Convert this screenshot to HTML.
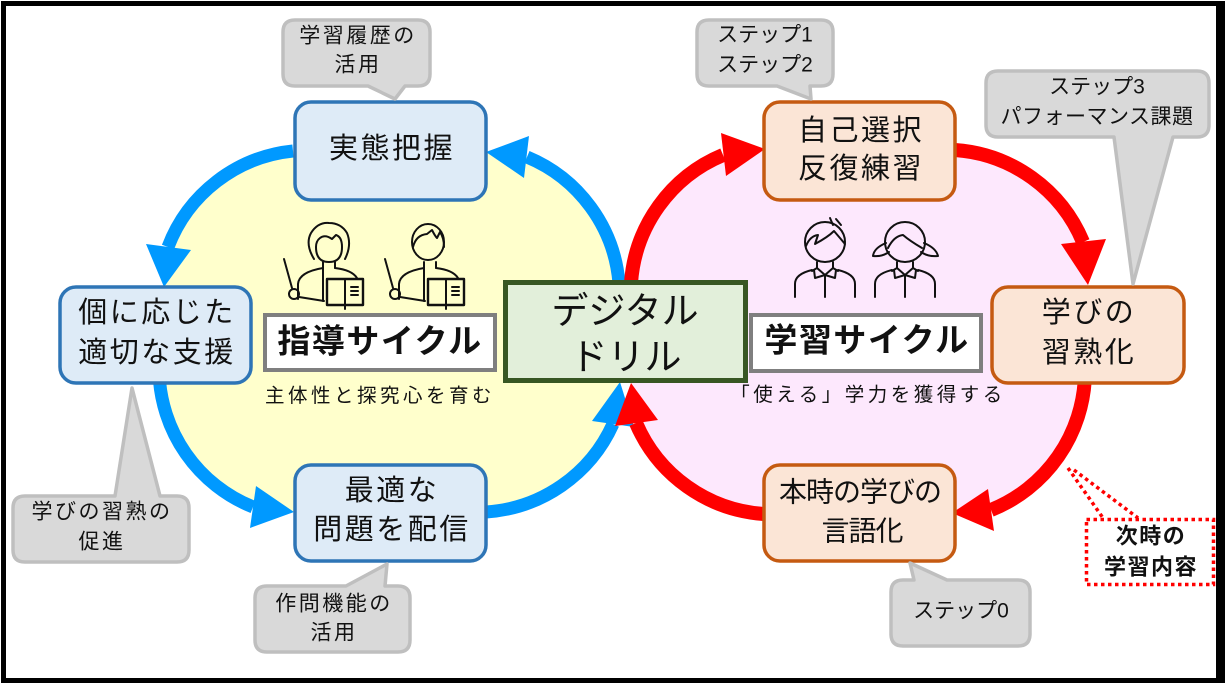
<!DOCTYPE html>
<html><head><meta charset="utf-8">
<style>
html,body{margin:0;padding:0;background:#fff;}
svg{display:block;}
text{font-family:"Liberation Sans","Noto Sans CJK JP",sans-serif;fill:#111;text-anchor:middle;dominant-baseline:central;}
.b{font-size:29px;letter-spacing:2.5px;}
.bn{font-size:28px;letter-spacing:-1px;}
.d{font-size:37px;}
.l{font-size:33px;font-weight:700;letter-spacing:1.5px;}
.s{font-size:19.5px;letter-spacing:3.5px;}
.c{font-size:21px;letter-spacing:2.5px;}
.ck{font-size:21px;letter-spacing:0px;}
.r{font-size:22px;font-weight:700;letter-spacing:1.5px;}
</style></head>
<body>
<svg width="1225" height="683" viewBox="0 0 1225 683" xmlns="http://www.w3.org/2000/svg">
<rect x="1" y="1" width="1224" height="682" fill="#000"/>
<rect x="6" y="6" width="1210" height="672" fill="#fff"/>

<path d="M619 283 A150 150 0 0 0 527 157 L487 152 L293 151 A150 150 0 0 0 168 247 L164 287 L159 372 A150 150 0 0 0 253 507 L293 512 L486 512 A150 150 0 0 0 613 424 L620 383 Z" fill="#ffffcc"/>
<path d="M631 283 A150 150 0 0 1 723 155 L765 150 L955 150 A150 150 0 0 1 1083 242 L1088 287 L1085 375 A150 150 0 0 1 991 510 L955 513 L764 514 A150 150 0 0 1 636 423 L631 383 Z" fill="#fde8fd"/>

<g fill="none" stroke="#0099ff" stroke-width="13">
<path d="M293 151 A150 150 0 0 0 168 247"/>
<path d="M159 372 A150 150 0 0 0 253 507"/>
<path d="M486 512 A150 150 0 0 0 613 424"/>
<path d="M619 283 A150 150 0 0 0 527 157"/>
</g>
<g fill="#0099ff">
<polygon points="146,244 191,250 164,287"/>
<polygon points="256,486 250,528 294,512"/>
<polygon points="592,421 634,427 620,382"/>
<polygon points="529,136 524,178 486,152"/>
</g>

<g fill="none" stroke="#ff0000" stroke-width="14">
<path d="M631 283 A150 150 0 0 1 723 155"/>
<path d="M955 150 A150 150 0 0 1 1083 242"/>
<path d="M1085 375 A150 150 0 0 1 991 510"/>
<path d="M764 514 A150 150 0 0 1 636 423"/>
</g>
<g fill="#ff0000">
<polygon points="721,133 726,176 765,149"/>
<polygon points="1061,244 1106,239 1088,285"/>
<polygon points="988,489 994,531 952,513"/>
<polygon points="615,426 658,420 631,383"/>
</g>

<g fill="none" stroke="#ff0000" stroke-width="3.5" stroke-dasharray="3.5 3.5">
<path d="M1068 468 L1103 518"/>
<path d="M1074 470 L1138 518"/>
<rect x="1086.5" y="519.5" width="127" height="65"/>
</g>

<g fill="#deebf7" stroke="#2e75b6" stroke-width="3.5">
<rect x="295" y="102" width="191" height="98" rx="16"/>
<rect x="60" y="287" width="191" height="96" rx="16"/>
<rect x="295" y="465" width="191" height="96" rx="16"/>
</g>
<g fill="#fbe5d6" stroke="#c55a11" stroke-width="3.5">
<rect x="764" y="102" width="191" height="98" rx="16"/>
<rect x="992" y="287" width="192" height="96" rx="16"/>
<rect x="764" y="465" width="191" height="96" rx="16"/>
</g>
<rect x="505.5" y="282.5" width="240" height="98" fill="#e2efda" stroke="#385723" stroke-width="5"/>
<g fill="#fff" stroke="#7f7f7f" stroke-width="4">
<rect x="265" y="315" width="230" height="55"/>
<rect x="751" y="315" width="230" height="56"/>
</g>

<g fill="#d9d9d9" stroke="#bfbfbf" stroke-width="3.5" stroke-linejoin="round">
<path d="M295 20 H418 Q430 20 430 32 V74 Q430 86 418 86 H405 L395 99 L368 86 H295 Q283 86 283 74 V32 Q283 20 295 20 Z"/>
<path d="M25 496 H115 L132 388 L160 496 H177 Q189 496 189 508 V550 Q189 562 177 562 H25 Q13 562 13 550 V508 Q13 496 25 496 Z"/>
<path d="M267 586 H346 L387 564 L385 586 H398 Q410 586 410 598 V640 Q410 652 398 652 H267 Q255 652 255 640 V598 Q255 586 267 586 Z"/>
<path d="M709 20 H821 Q833 20 833 32 V74 Q833 86 821 86 H810 L811 99 L777 86 H709 Q697 86 697 74 V32 Q697 20 709 20 Z"/>
<path d="M998 71 H1197 Q1209 71 1209 83 V125 Q1209 137 1197 137 H1173 L1133 284 L1114 137 H998 Q986 137 986 125 V83 Q986 71 998 71 Z"/>
<path d="M903 580 H914 L910 563 L947 580 H1018 Q1030 580 1030 592 V634 Q1030 646 1018 646 H903 Q891 646 891 634 V592 Q891 580 903 580 Z"/>
</g>

<g fill="none" stroke="#111" stroke-width="2" stroke-linecap="round" stroke-linejoin="round">
<path d="M314 259 Q305 244 311 233 Q318 222 329 223 Q341 223 347 233 Q352 245 345 259"/>
<path d="M316 247 Q316 262 329 262 Q342 262 342 247 Q342 237 336 235 L332 239 Q325 234 320 238 Q316 241 316 247 Z"/>
<ellipse cx="428" cy="242" rx="16" ry="18"/>
<path d="M413 247 Q416 235 427 234 L432 230 Q435 236 437 238 L440 232 Q444 238 444 247"/>
<g>
<path d="M323 262 V268 M335 262 V268"/>
<path d="M298 299 V284 Q299 272 323 268 M335 268 Q352 270 357 278"/>
<path d="M323 268 V301"/>
<path d="M284 259 L292 288"/>
<circle cx="294" cy="294" r="5"/>
<path d="M299 297 L324 301"/>
<rect x="327" y="279" width="36" height="26" stroke-width="2.4"/>
<path d="M345 279 V309 M351 287 H358 M351 291 H358 M351 295 H358"/>
</g>
<g transform="translate(101,0)">
<path d="M323 262 V268 M335 262 V268"/>
<path d="M298 299 V284 Q299 272 323 268 M335 268 Q352 270 357 278"/>
<path d="M323 268 V301"/>
<path d="M284 259 L292 288"/>
<circle cx="294" cy="294" r="5"/>
<path d="M299 297 L324 301"/>
<rect x="327" y="279" width="36" height="26" stroke-width="2.4"/>
<path d="M345 279 V309 M351 287 H358 M351 291 H358 M351 295 H358"/>
</g>
<circle cx="825" cy="242" r="20"/>
<path d="M806 246 Q810 236 818 235 L815 244 Q828 237 834 231 Q840 238 845 244"/>
<path d="M830 218 L833 225 M836 219 L841 225"/>
<g>
<path d="M817 262 V268 M833 262 V268"/>
<path d="M812 271 L817 268 L825 275 L833 268 L838 271"/>
<path d="M814 270 L815 278 L825 275 L835 278 L836 270"/>
<path d="M795 297 V284 Q795 274 812 270 M855 297 V284 Q855 274 838 270"/>
<path d="M825 275 V297"/>
</g>
<circle cx="905" cy="242" r="20"/>
<path d="M888 248 Q894 236 903 235 Q910 241 922 248"/>
<path d="M886 243 Q874 248 873 256 Q882 257 889 252 M924 243 Q936 248 938 256 Q928 257 921 252"/>
<g transform="translate(80,0)">
<path d="M817 262 V268 M833 262 V268"/>
<path d="M812 271 L817 268 L825 275 L833 268 L838 271"/>
<path d="M814 270 L815 278 L825 275 L835 278 L836 270"/>
<path d="M795 297 V284 Q795 274 812 270 M855 297 V284 Q855 274 838 270"/>
<path d="M825 275 V297"/>
</g>
</g>

<text class="b" x="392" y="149">実態把握</text>
<text class="b" x="157" y="313">個に応じた</text>
<text class="b" x="157" y="353">適切な支援</text>
<text class="b" x="392" y="491">最適な</text>
<text class="b" x="392" y="530">問題を配信</text>
<text class="b" x="861" y="131">自己選択</text>
<text class="b" x="861" y="169">反復練習</text>
<text class="b" x="1089" y="313">学びの</text>
<text class="b" x="1089" y="353">習熟化</text>
<text class="bn" x="860" y="492">本時の学びの</text>
<text class="bn" x="862" y="531">言語化</text>

<text class="d" x="625" y="311">デジタル</text>
<text class="d" x="626" y="357">ドリル</text>

<text class="l" x="380" y="341">指導サイクル</text>
<text class="l" x="867" y="340">学習サイクル</text>
<text class="s" x="380" y="396">主体性と探究心を育む</text>
<text class="s" x="868" y="395">「使える」学力を獲得する</text>

<text class="c" x="358" y="36">学習履歴の</text>
<text class="c" x="358" y="65">活用</text>
<text class="c" x="102" y="512">学びの習熟の</text>
<text class="c" x="102" y="542">促進</text>
<text class="c" x="334" y="604">作問機能の</text>
<text class="c" x="334" y="633">活用</text>
<text class="ck" x="765" y="35">ステップ1</text>
<text class="ck" x="765" y="65">ステップ2</text>
<text class="ck" x="1097" y="87">ステップ3</text>
<text class="ck" x="1097" y="117" style="letter-spacing:0.5px">パフォーマンス課題</text>
<text class="ck" x="961" y="611">ステップ0</text>

<text class="r" x="1151" y="536">次時の</text>
<text class="r" x="1151" y="567">学習内容</text>
</svg>
</body></html>
